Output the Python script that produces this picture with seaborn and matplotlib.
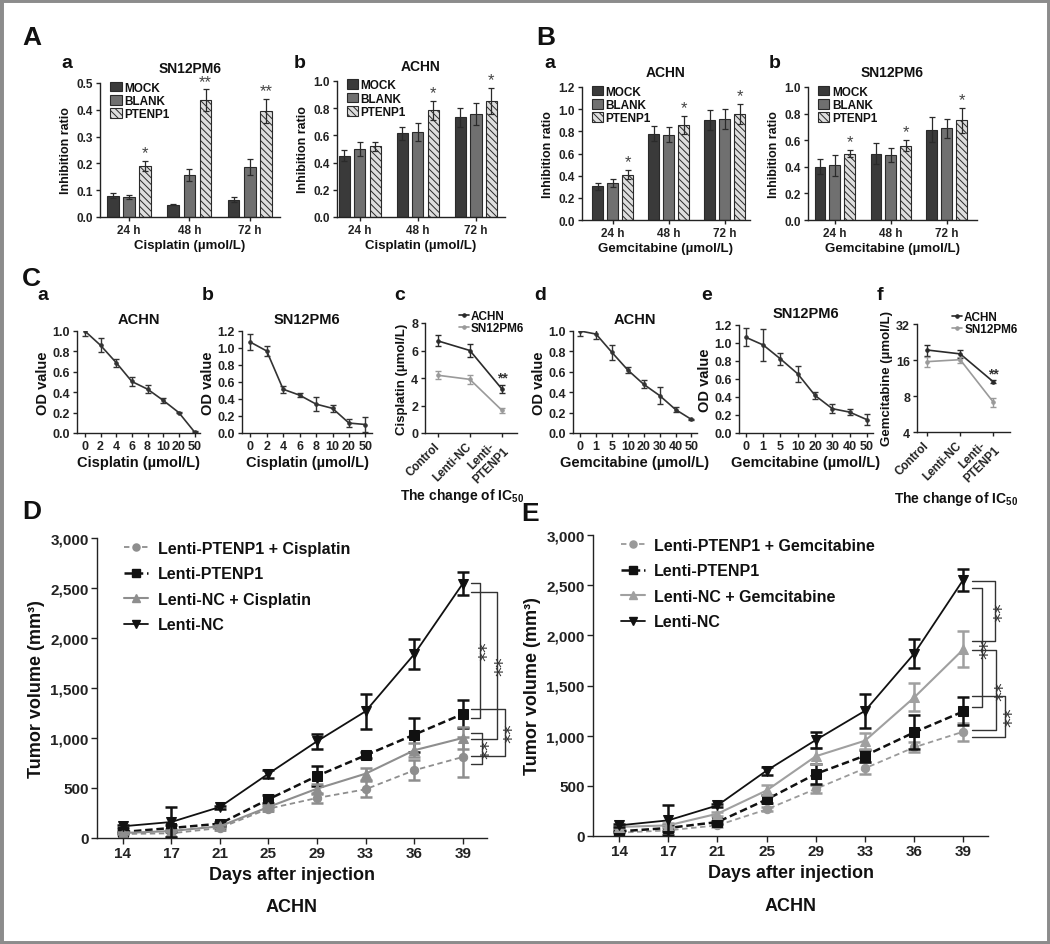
import numpy as np
import pandas as pd
import matplotlib.pyplot as plt
import seaborn as sns
from matplotlib.lines import Line2D
from matplotlib.patches import Patch, Rectangle
from matplotlib.ticker import StrMethodFormatter, NullLocator, FixedLocator

# -------------------------------
# Data
# -------------------------------
times = ["24 h", "48 h", "72 h"]
groups = ["MOCK", "BLANK", "PTENP1"]

# A-a SN12PM6 + cisplatin (rows: MOCK, BLANK, PTENP1)
aa_vals = [[0.080, 0.046, 0.065], [0.075, 0.157, 0.186], [0.190, 0.436, 0.396]]
aa_errs = [[0.008, 0.003, 0.008], [0.007, 0.022, 0.030], [0.020, 0.040, 0.045]]
aa_stars = ["*", "**", "**"]
# A-b ACHN + cisplatin
ab_vals = [[0.450, 0.615, 0.735], [0.500, 0.625, 0.760], [0.520, 0.785, 0.855]]
ab_errs = [[0.040, 0.050, 0.070], [0.050, 0.065, 0.080], [0.035, 0.070, 0.095]]
ab_stars = ["", "*", "*"]
# B-a ACHN + gemcitabine
ba_vals = [[0.305, 0.780, 0.900], [0.335, 0.770, 0.910], [0.410, 0.860, 0.955]]
ba_errs = [[0.030, 0.070, 0.090], [0.035, 0.065, 0.090], [0.040, 0.080, 0.090]]
ba_stars = ["*", "*", "*"]
# B-b SN12PM6 + gemcitabine
bb_vals = [[0.400, 0.500, 0.680], [0.410, 0.490, 0.690], [0.500, 0.560, 0.750]]
bb_errs = [[0.055, 0.080, 0.095], [0.080, 0.055, 0.070], [0.025, 0.040, 0.095]]
bb_stars = ["*", "*", "*"]

# C: dose response (OD value)
cis_doses = ["0", "2", "4", "6", "8", "10", "20", "50"]
gem_doses = ["0", "1", "5", "10", "20", "30", "40", "50"]
ca_od = [1.00, 0.86, 0.69, 0.505, 0.43, 0.32, 0.20, 0.01]
ca_err = [0.05, 0.07, 0.04, 0.04, 0.04, 0.025, 0.005, 0.005]
cb_od = [1.07, 0.965, 0.515, 0.445, 0.34, 0.29, 0.117, 0.10]
cb_err = [0.09, 0.06, 0.04, 0.02, 0.08, 0.04, 0.05, 0.09]
cd_od = [1.00, 0.97, 0.79, 0.617, 0.477, 0.367, 0.23, 0.133]
cd_err = [0.05, 0.05, 0.07, 0.03, 0.04, 0.08, 0.025, 0.005]
ce_od = [1.063, 0.978, 0.823, 0.657, 0.417, 0.27, 0.232, 0.148]
ce_err = [0.10, 0.18, 0.07, 0.09, 0.04, 0.05, 0.03, 0.06]

# C: IC50 change
ic50_groups = ["Control", "Lenti-NC", "Lenti-\nPTENP1"]
cc_achn = [6.7, 6.0, 3.2]
cc_achn_err = [0.4, 0.5, 0.3]
cc_sn = [4.2, 3.9, 1.65]
cc_sn_err = [0.3, 0.35, 0.2]
cf_achn = [19.4, 18.0, 10.5]
cf_achn_err = [2.0, 1.3, 0.3]
cf_sn = [15.5, 16.1, 7.1]
cf_sn_err = [1.5, 1.0, 0.6]

# D / E: tumor volume (mm3)
days = ["14", "17", "21", "25", "29", "33", "36", "39"]
d_ptenp1_cis = [40, 47, 100, 293, 400, 487, 677, 810]
d_ptenp1_cis_err = [10, 40, 15, 20, 50, 80, 100, 200]
d_ptenp1 = [60, 100, 143, 387, 620, 827, 1033, 1240]
d_ptenp1_err = [10, 30, 20, 40, 100, 30, 170, 140]
d_nc_cis = [50, 70, 117, 310, 493, 643, 877, 1000]
d_nc_cis_err = [10, 10, 15, 20, 50, 60, 70, 110]
d_nc = [117, 160, 310, 643, 967, 1267, 1837, 2543]
d_nc_err = [15, 150, 15, 40, 75, 175, 150, 115]

e_ptenp1_gem = [33, 56, 106, 265, 470, 675, 884, 1040]
e_ptenp1_gem_err = [10, 20, 15, 20, 40, 60, 50, 90]
e_ptenp1 = [46, 80, 139, 364, 619, 801, 1033, 1242]
e_ptenp1_err = [10, 30, 15, 40, 100, 60, 170, 140]
e_nc_gem = [90, 106, 222, 454, 795, 950, 1381, 1861]
e_nc_gem_err = [10, 20, 20, 50, 80, 80, 140, 180]
e_nc = [106, 156, 305, 652, 957, 1248, 1818, 2556]
e_nc_err = [15, 150, 15, 40, 80, 170, 145, 110]

# -------------------------------
# Style
# -------------------------------
sns.set_style("ticks")
plt.rcParams["font.family"] = ["Liberation Sans", "DejaVu Sans"]
plt.rcParams.update({
    "font.weight": "bold",
    "axes.labelweight": "bold",
    "axes.titleweight": "bold",
    "axes.linewidth": 1.0,
    "axes.edgecolor": "#222222",
    "xtick.color": "#222222",
    "ytick.color": "#222222",
    "xtick.major.width": 1.0,
    "ytick.major.width": 1.0,
    "xtick.major.size": 3,
    "ytick.major.size": 3,
    "hatch.linewidth": 0.7,
    "mathtext.fontset": "custom",
    "mathtext.rm": "Liberation Sans:bold",
    "mathtext.it": "Liberation Sans:bold",
    "mathtext.bf": "Liberation Sans:bold",
    "text.color": "#111111",
    "axes.labelcolor": "#111111",
})

W, H = 1050, 945
fig = plt.figure(figsize=(W / 100, H / 100), dpi=100)
fig.patches.append(Rectangle((0, 0), 1, 1, transform=fig.transFigure,
                             fill=False, edgecolor="#8c8c8c", linewidth=5))


def add_ax(x0, y0, x1, y1):
    return fig.add_axes([x0 / W, 1 - y1 / H, (x1 - x0) / W, (y1 - y0) / H])


def letter(x, y, s, size):
    fig.text(x / W, 1 - y / H, s, fontsize=size, fontweight="bold",
             ha="left", va="center")


def style_axes(ax, size):
    sns.despine(ax=ax)
    ax.tick_params(labelsize=size, direction="out", pad=2)


bar_colors = {"MOCK": "#3a3a3a", "BLANK": "#707070", "PTENP1": "#dedede"}
hatch = "\\\\\\\\\\"


def bar_panel(box, vals, errs, stars, ymax, ystep, xlim, title, xlabel):
    ax = add_ax(*box)
    rows = [(t, g, v) for g, gv in zip(groups, vals) for t, v in zip(times, gv)]
    df = pd.DataFrame(rows, columns=["time", "group", "value"])
    sns.barplot(data=df, x="time", y="value", hue="group", order=times,
                hue_order=groups, palette=bar_colors, width=0.8, gap=0.28,
                saturation=1, edgecolor="#2a2a2a", linewidth=0.8,
                errorbar=None, legend=False, ax=ax)
    for cont, ge in zip(ax.containers, errs):
        for bar, e in zip(cont, ge):
            ax.errorbar(bar.get_x() + bar.get_width() / 2, bar.get_height(),
                        yerr=e, fmt="none", ecolor="#2a2a2a", elinewidth=0.9,
                        capsize=2.5, capthick=0.9)
    for bar, e, st in zip(ax.containers[2], errs[2], stars):
        bar.set_hatch(hatch)
        if st:
            ax.text(bar.get_x() + bar.get_width() / 2,
                    bar.get_height() + e + ymax * 0.005, st,
                    ha="center", va="bottom", fontsize=12,
                    fontweight="normal", color="#444444")
    ax.set_ylim(0, ymax)
    ax.set_yticks(np.arange(0, ymax + 1e-9, ystep))
    ax.yaxis.set_major_formatter(StrMethodFormatter("{x:.1f}"))
    ax.set_xlim(*xlim)
    ax.set_title(title, fontsize=10, pad=8)
    ax.set_xlabel(xlabel, fontsize=9.5, labelpad=2)
    ax.set_ylabel("Inhibition ratio", fontsize=9, labelpad=3)
    style_axes(ax, 8.5)
    handles = [Patch(facecolor=bar_colors[g], edgecolor="#2a2a2a",
                     linewidth=0.8, hatch=hatch if g == "PTENP1" else None)
               for g in groups]
    ax.legend(handles, groups, loc="upper left", bbox_to_anchor=(0.05, 1.02),
              frameon=False, fontsize=8.5, handlelength=1.0, handleheight=0.9,
              handletextpad=0.2, labelspacing=0.1, borderaxespad=0,
              borderpad=0.1)
    return ax


def od_panel(box, doses, od, err, ymax, xlim, title, xlabel):
    ax = add_ax(*box)
    pos = np.arange(len(doses))
    sns.lineplot(x=pos, y=od, color="#333333", linewidth=1.2, marker="o",
                 markersize=2.5, markeredgecolor="#333333", ax=ax)
    ax.errorbar(pos, od, yerr=err, fmt="none", ecolor="#333333",
                elinewidth=1.0, capsize=2, capthick=1.0)
    ax.set_xticks(pos, doses)
    ax.set_xlim(*xlim)
    ax.set_ylim(0, ymax)
    ax.set_yticks(np.arange(0, ymax + 1e-9, 0.2))
    ax.yaxis.set_major_formatter(StrMethodFormatter("{x:.1f}"))
    ax.set_title(title, fontsize=10.5, pad=6)
    ax.set_xlabel(xlabel, fontsize=10.5, labelpad=2)
    ax.set_ylabel("OD value", fontsize=10.5, labelpad=2)
    style_axes(ax, 9)
    return ax


def ic50_panel(box, achn, achn_err, sn, sn_err, ylabel, xlim, label_x, label_y):
    ax = add_ax(*box)
    pos = np.arange(len(ic50_groups))
    for v, e, c, lab in [(achn, achn_err, "#2a2a2a", "ACHN"),
                         (sn, sn_err, "#9a9a9a", "SN12PM6")]:
        sns.lineplot(x=pos, y=v, color=c, linewidth=1.2, marker="o",
                     markersize=2.5, markeredgecolor=c, label=lab, ax=ax)
        ax.errorbar(pos, v, yerr=e, fmt="none", ecolor=c, elinewidth=1.0,
                    capsize=2, capthick=1.0)
    ax.text(pos[-1], achn[-1] + achn_err[-1] * 1.2, "**", ha="center",
            va="bottom", fontsize=10, color="#333333")
    ax.set_xticks(pos, ic50_groups, rotation=45, ha="right", va="center",
                  rotation_mode="anchor", multialignment="center")
    ax.set_xlim(*xlim)
    ax.set_ylabel(ylabel, fontsize=9.5, labelpad=2)
    ax.set_xlabel("The change of IC$_{50}$", fontsize=10)
    ax.xaxis.set_label_coords(label_x, label_y)
    style_axes(ax, 9)
    ax.tick_params(axis="x", labelsize=8.5, pad=5)
    ax.legend(loc="upper right", bbox_to_anchor=(1.08, 1.12), frameon=False,
              fontsize=8.5, handlelength=0.8, handletextpad=0.2,
              labelspacing=0.0, borderaxespad=0, borderpad=0)
    return ax


def tumor_panel(box, series, labels, brackets):
    ax = add_ax(*box)
    pos = np.arange(len(days))
    handles = []
    for (v, e), (lab, c, ls, mk, ms, lw) in zip(series, labels):
        sns.lineplot(x=pos, y=v, color=c, linestyle=ls, linewidth=lw,
                     marker=mk, markersize=ms, markeredgecolor=c, ax=ax)
        ax.errorbar(pos, v, yerr=e, fmt="none", ecolor=c, elinewidth=1.8,
                    capsize=4, capthick=1.8, clip_on=False)
        handles.append(Line2D([], [], color=c, linestyle=ls, linewidth=lw,
                              marker=mk, markersize=ms * 0.85, markeredgecolor=c))
    ax.set_xticks(pos, days)
    ax.set_xlim(-0.53, 7.5)
    ax.set_ylim(0, 3000)
    ax.set_yticks(np.arange(0, 3001, 500))
    ax.yaxis.set_major_formatter(StrMethodFormatter("{x:,.0f}"))
    ax.set_xlabel("Days after injection", fontsize=13, labelpad=4)
    ax.set_ylabel("Tumor volume (mm³)", fontsize=13, labelpad=4)
    ax.text(0.5, -0.23, "ACHN", transform=ax.transAxes, ha="center",
            va="center", fontsize=13)
    style_axes(ax, 11)
    ax.tick_params(length=4)
    ax.legend(handles, [l[0] for l in labels], loc="upper left",
              bbox_to_anchor=(0.07, 0.99), frameon=False, fontsize=11.5,
              handlelength=1.5, handletextpad=0.6, labelspacing=0.65,
              borderaxespad=0, borderpad=0)
    vals = {l[0]: s[0][-1] for s, l in zip(series, labels)}
    for top, bot, xv, dt, db in brackets:
        yt, yb = vals[top] + dt, vals[bot] + db
        x0 = pos[-1] + 0.18
        ax.plot([x0, xv, xv, x0], [yt, yt, yb, yb], color="#333333",
                linewidth=1.0, clip_on=False)
        ax.text(xv + 0.13, (yt + yb) / 2, "**", rotation=90, ha="center",
                va="center", fontsize=14, fontweight="normal",
                family="DejaVu Sans", color="#333333", clip_on=False)
    return ax


# -------------------------------
# Panels A and B
# -------------------------------
bar_panel((100, 84, 280, 218), aa_vals, aa_errs, aa_stars, 0.5, 0.1,
          (-0.48, 2.5), "SN12PM6", "Cisplatin (µmol/L)")
bar_panel((337, 82, 505, 218), ab_vals, ab_errs, ab_stars, 1.0, 0.2,
          (-0.39, 2.5), "ACHN", "Cisplatin (µmol/L)")
bar_panel((582, 88, 750, 221), ba_vals, ba_errs, ba_stars, 1.2, 0.2,
          (-0.55, 2.45), "ACHN", "Gemcitabine (µmol/L)")
bar_panel((808, 88, 977, 221), bb_vals, bb_errs, bb_stars, 1.0, 0.2,
          (-0.48, 2.54), "SN12PM6", "Gemcitabine (µmol/L)")

# -------------------------------
# Panel C
# -------------------------------
od_panel((77, 332, 200, 434), cis_doses, ca_od, ca_err, 1.0, (-0.5, 7.35),
         "ACHN", "Cisplatin (µmol/L)")
od_panel((242, 332, 372, 434), cis_doses, cb_od, cb_err, 1.2, (-0.5, 7.4),
         "SN12PM6", "Cisplatin (µmol/L)")
ax_cc = ic50_panel((425, 324, 517, 434), cc_achn, cc_achn_err, cc_sn, cc_sn_err,
                   "Cisplatin (µmol/L)", (-0.4, 2.47), 0.40, -0.48)
ax_cc.set_ylim(0, 8)
ax_cc.set_yticks([0, 2, 4, 6, 8])
od_panel((573, 332, 697, 434), gem_doses, cd_od, cd_err, 1.0, (-0.45, 7.35),
         "ACHN", "Gemcitabine (µmol/L)")
od_panel((739, 326, 873, 434), gem_doses, ce_od, ce_err, 1.2, (-0.4, 7.35),
         "SN12PM6", "Gemcitabine (µmol/L)")
ax_cf = ic50_panel((917, 325, 1010, 433), cf_achn, cf_achn_err, cf_sn, cf_sn_err,
                   "Gemcitabine (µmol/L)", (-0.3, 2.5), 0.42, -0.53)
ax_cf.set_yscale("log", base=2)
ax_cf.set_ylim(4, 32)
ax_cf.yaxis.set_major_locator(FixedLocator([4, 8, 16, 32]))
ax_cf.yaxis.set_minor_locator(NullLocator())
ax_cf.yaxis.set_major_formatter(StrMethodFormatter("{x:.0f}"))

# -------------------------------
# Panels D and E
# -------------------------------
d_labels = [("Lenti-PTENP1 + Cisplatin", "#8e8e8e", (0, (3, 2)), "o", 6, 1.3),
            ("Lenti-PTENP1", "#111111", (0, (3, 1.5)), "s", 6.5, 1.8),
            ("Lenti-NC + Cisplatin", "#8e8e8e", "-", "^", 6.5, 1.5),
            ("Lenti-NC", "#111111", "-", "v", 6.5, 1.3)]
d_series = [(d_ptenp1_cis, d_ptenp1_cis_err), (d_ptenp1, d_ptenp1_err),
            (d_nc_cis, d_nc_cis_err), (d_nc, d_nc_err)]
d_brackets = [("Lenti-NC", "Lenti-PTENP1", 7.36, 10, -40),
              ("Lenti-NC", "Lenti-NC + Cisplatin", 7.70, -80, -7),
              ("Lenti-PTENP1", "Lenti-PTENP1 + Cisplatin", 7.88, 53, 10),
              ("Lenti-NC + Cisplatin", "Lenti-PTENP1 + Cisplatin", 7.40, 53, -67)]
tumor_panel((97, 539, 487, 839), d_series, d_labels, d_brackets)

e_labels = [("Lenti-PTENP1 + Gemcitabine", "#9a9a9a", (0, (3, 2)), "o", 6, 1.3),
            ("Lenti-PTENP1", "#111111", (0, (3, 1.5)), "s", 6.5, 1.8),
            ("Lenti-NC + Gemcitabine", "#a0a0a0", "-", "^", 6.5, 1.5),
            ("Lenti-NC", "#111111", "-", "v", 6.5, 1.3)]
e_series = [(e_ptenp1_gem, e_ptenp1_gem_err), (e_ptenp1, e_ptenp1_err),
            (e_nc_gem, e_nc_gem_err), (e_nc, e_nc_err)]
e_brackets = [("Lenti-NC", "Lenti-NC + Gemcitabine", 7.645, -16, 83),
              ("Lenti-NC", "Lenti-PTENP1", 7.37, -89, 39),
              ("Lenti-NC + Gemcitabine", "Lenti-PTENP1 + Gemcitabine", 7.665, -7, 20),
              ("Lenti-PTENP1", "Lenti-PTENP1 + Gemcitabine", 7.85, 155, -57)]
tumor_panel((593, 536, 988, 837), e_series, e_labels, e_brackets)

# -------------------------------
# Panel letters
# -------------------------------
for x, y, s in [(22, 38, "A"), (536, 38, "B"), (22, 279, "C"),
                (22, 512, "D"), (521, 514, "E")]:
    letter(x, y, s, 19)
for x, y, s in [(61, 64, "a"), (294, 64, "b"), (544, 64, "a"), (769, 64, "b"),
                (37, 296, "a"), (202, 296, "b"), (394, 296, "c"),
                (534, 296, "d"), (701, 296, "e"), (877, 296, "f")]:
    letter(x, y, s, 14)

fig.savefig("out.png", dpi=100)
